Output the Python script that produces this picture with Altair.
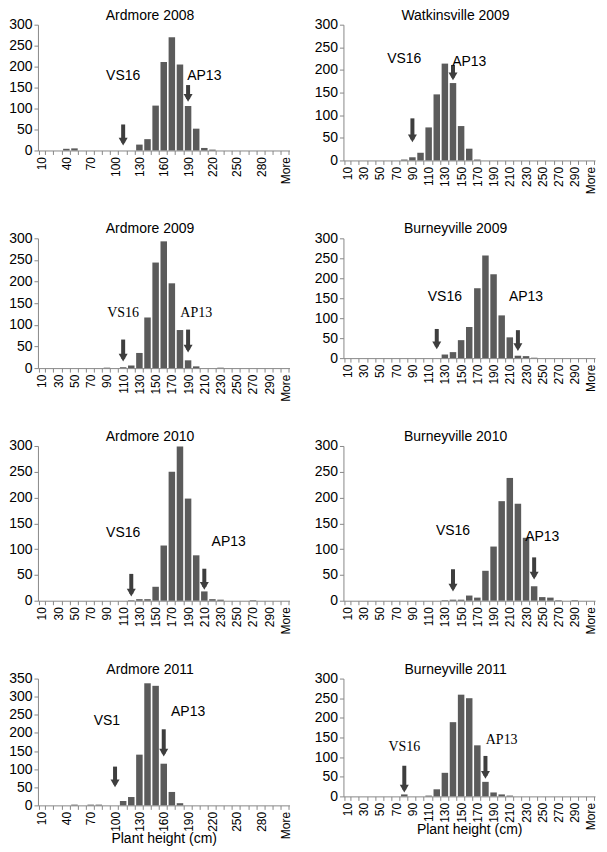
import altair as alt
import pandas as pd

categories = ["10", "20", "30", "40", "50", "60", "70", "80", "90", "100",
              "110", "120", "130", "140", "150", "160", "170", "180", "190", "200",
              "210", "220", "230", "240", "250", "260", "270", "280", "290", "300", "More"]

labels_every2 = ["10", "30", "50", "70", "90", "110", "130", "150", "170", "190",
                 "210", "230", "250", "270", "290", "More"]
labels_every3 = ["10", "40", "70", "100", "130", "160", "190", "220", "250", "280", "More"]

ardmore_2008 = [0, 0, 0, 4, 5, 0, 0, 0, 0, 0, 0, 0, 14, 27, 107, 211, 270, 205, 106, 52,
                6, 2, 0, 0, 0, 0, 0, 0, 0, 0, 0]
watkinsville_2009 = [0, 0, 0, 0, 0, 0, 0, 2, 7, 17, 73, 146, 214, 171, 76, 26, 2, 0, 0, 0,
                     0, 0, 0, 0, 0, 0, 0, 0, 0, 0, 0]
ardmore_2009 = [0, 0, 0, 0, 0, 0, 0, 0, 1, 0, 2, 6, 35, 117, 244, 293, 196, 88, 18, 4,
                0, 0, 1, 0, 0, 0, 0, 0, 0, 0, 0]
burneyville_2009 = [0, 0, 0, 0, 0, 0, 0, 0, 0, 0, 0, 0, 9, 15, 45, 78, 175, 257, 210, 107,
                    52, 6, 5, 1, 0, 0, 0, 0, 0, 0, 0]
ardmore_2010 = [0, 0, 0, 0, 0, 0, 0, 0, 0, 0, 0, 1, 3, 3, 27, 107, 250, 299, 198, 88,
                18, 3, 2, 0, 0, 0, 1, 0, 0, 0, 0]
burneyville_2010 = [0, 0, 0, 0, 0, 0, 0, 0, 0, 0, 0, 0, 1, 2, 2, 10, 6, 58, 105, 193,
                    238, 188, 122, 28, 7, 6, 1, 0, 1, 0, 0]
ardmore_2011 = [0, 0, 0, 0, 2, 0, 2, 2, 0, 0, 12, 23, 140, 337, 330, 115, 37, 6, 0, 0,
                0, 0, 0, 0, 0, 0, 0, 0, 0, 0, 0]
burneyville_2011 = [0, 0, 0, 0, 0, 0, 0, 5, 0, 0, 2, 18, 60, 189, 259, 250, 130, 37, 10, 5,
                    2, 0, 0, 0, 0, 0, 0, 0, 0, 0, 0]

# annotation arrows: category, top value, tip value
arrows = {
    "Ardmore 2008": (["110", "190"], [62, 156], [12, 116]),
    "Watkinsville 2009": (["90", "140"], [93, 211], [40, 177]),
    "Ardmore 2009": (["110", "190"], [66, 89], [15, 36]),
    "Burneyville 2009": (["120", "220"], [73, 70], [22, 18]),
    "Ardmore 2010": (["120", "210"], [52, 62], [8, 21]),
    "Burneyville 2010": (["140", "240"], [61, 84], [18, 41]),
    "Ardmore 2011": (["100", "160"], [107, 210], [50, 135]),
    "Burneyville 2011": (["80", "180"], [78, 103], [10, 45]),
}

# annotation texts: labels, category, value
notes = {
    "Ardmore 2008": (["VS16", "AP13"], ["110", "210"], [178, 178]),
    "Watkinsville 2009": (["VS16", "AP13"], ["80", "160"], [225, 218]),
    "Ardmore 2009": (["VS16", "AP13"], ["110", "200"], [127, 127]),
    "Burneyville 2009": (["VS16", "AP13"], ["130", "230"], [153, 153]),
    "Ardmore 2010": (["VS16", "AP13"], ["110", "240"], [132, 114]),
    "Burneyville 2010": (["VS16", "AP13"], ["140", "250"], [136, 123]),
    "Ardmore 2011": (["VS1", "AP13"], ["90", "190"], [233, 257]),
    "Burneyville 2011": (["VS16", "AP13"], ["80", "200"], [127, 144]),
}

BAR = "#5b5b5b"
ARROW = "#3e3e3e"
SANS = "Liberation Sans"
SERIF = "Liberation Serif"


def panel(title, counts, ymax, shown, font, w, h, xtitle=None):
    bars_df = pd.DataFrame({"cat": categories, "n": counts})
    ac, at, ap = arrows[title]
    arr_df = pd.DataFrame({"cat": ac, "top": at, "tip": ap})
    nl, nc, ny = notes[title]
    txt_df = pd.DataFrame({"cat": nc, "y": ny, "label": nl})

    shown_js = "[" + ",".join("'" + c + "'" for c in shown) + "]"
    ax_kw = dict(labelAngle=270, labelOverlap=False, tickBand="extent",
                 labelExpr="indexof(" + shown_js + ", datum.value) >= 0 ? datum.label : ''",
                 labelFontSize=12, labelPadding=2)
    if xtitle:
        xaxis = alt.Axis(title=xtitle, titleY=37, titleBaseline="alphabetic", **ax_kw)
    else:
        xaxis = alt.Axis(title=None, **ax_kw)
    x = alt.X("cat:O", scale=alt.Scale(domain=categories, paddingInner=0.2, paddingOuter=0.1),
              axis=xaxis)
    yscale = alt.Scale(domain=[0, ymax], nice=False)
    yaxis = alt.Axis(title=None, values=list(range(0, ymax + 1, 50)), labelFontSize=14,
                     labelPadding=2)

    bars = alt.Chart(bars_df).mark_bar(color=BAR).encode(
        x=x, y=alt.Y("n:Q", scale=yscale, axis=yaxis))
    shafts = alt.Chart(arr_df).mark_rule(color=ARROW, strokeWidth=4, y2Offset=-3).encode(
        x=x, y=alt.Y("top:Q", scale=yscale, axis=yaxis), y2="tip:Q")
    heads = alt.Chart(arr_df).mark_point(shape="triangle-down", filled=True, size=81,
                                         opacity=1, color=ARROW, yOffset=-3.9).encode(
        x=x, y=alt.Y("tip:Q", scale=yscale, axis=yaxis))
    texts = alt.Chart(txt_df).mark_text(font=font, fontSize=14, color="black",
                                        baseline="middle").encode(
        x=x, y=alt.Y("y:Q", scale=yscale, axis=yaxis), text="label:N")
    return alt.layer(bars, shafts, heads, texts).properties(
        width=w, height=h, title=alt.TitleParams(title))


WL, WR = 252, 252
rows = [
    alt.hconcat(panel("Ardmore 2008", ardmore_2008, 300, labels_every3, SANS, WL, 126),
                panel("Watkinsville 2009", watkinsville_2009, 300, labels_every2, SANS, WR, 136),
                spacing=22),
    alt.hconcat(panel("Ardmore 2009", ardmore_2009, 300, labels_every2, SERIF, WL, 130),
                panel("Burneyville 2009", burneyville_2009, 300, labels_every2, SANS, WR, 120),
                spacing=22),
    alt.hconcat(panel("Ardmore 2010", ardmore_2010, 300, labels_every2, SANS, WL, 155),
                panel("Burneyville 2010", burneyville_2010, 300, labels_every2, SANS, WR, 155),
                spacing=22),
    alt.hconcat(panel("Ardmore 2011", ardmore_2011, 350, labels_every3, SANS, WL, 127,
                      "Plant height (cm)"),
                panel("Burneyville 2011", burneyville_2011, 300, labels_every2, SERIF, WR, 118,
                      "Plant height (cm)"),
                spacing=22),
]

chart = alt.vconcat(*rows, spacing=28).properties(
    padding={"left": 0, "top": 0, "right": 2, "bottom": 2}
).configure_view(stroke=None).configure_axis(
    domainColor="#888888", tickColor="#888888", labelColor="black",
    labelFont=SANS, titleFont=SANS, titleFontWeight="normal", titleFontSize=14,
    titleColor="black", grid=False, tickSize=4
).configure_title(
    font=SANS, fontSize=14, fontWeight="normal", color="black",
    anchor="middle", frame="bounds", offset=-5
)

chart.save("out.html", embed_options={"renderer": "svg", "actions": False})
